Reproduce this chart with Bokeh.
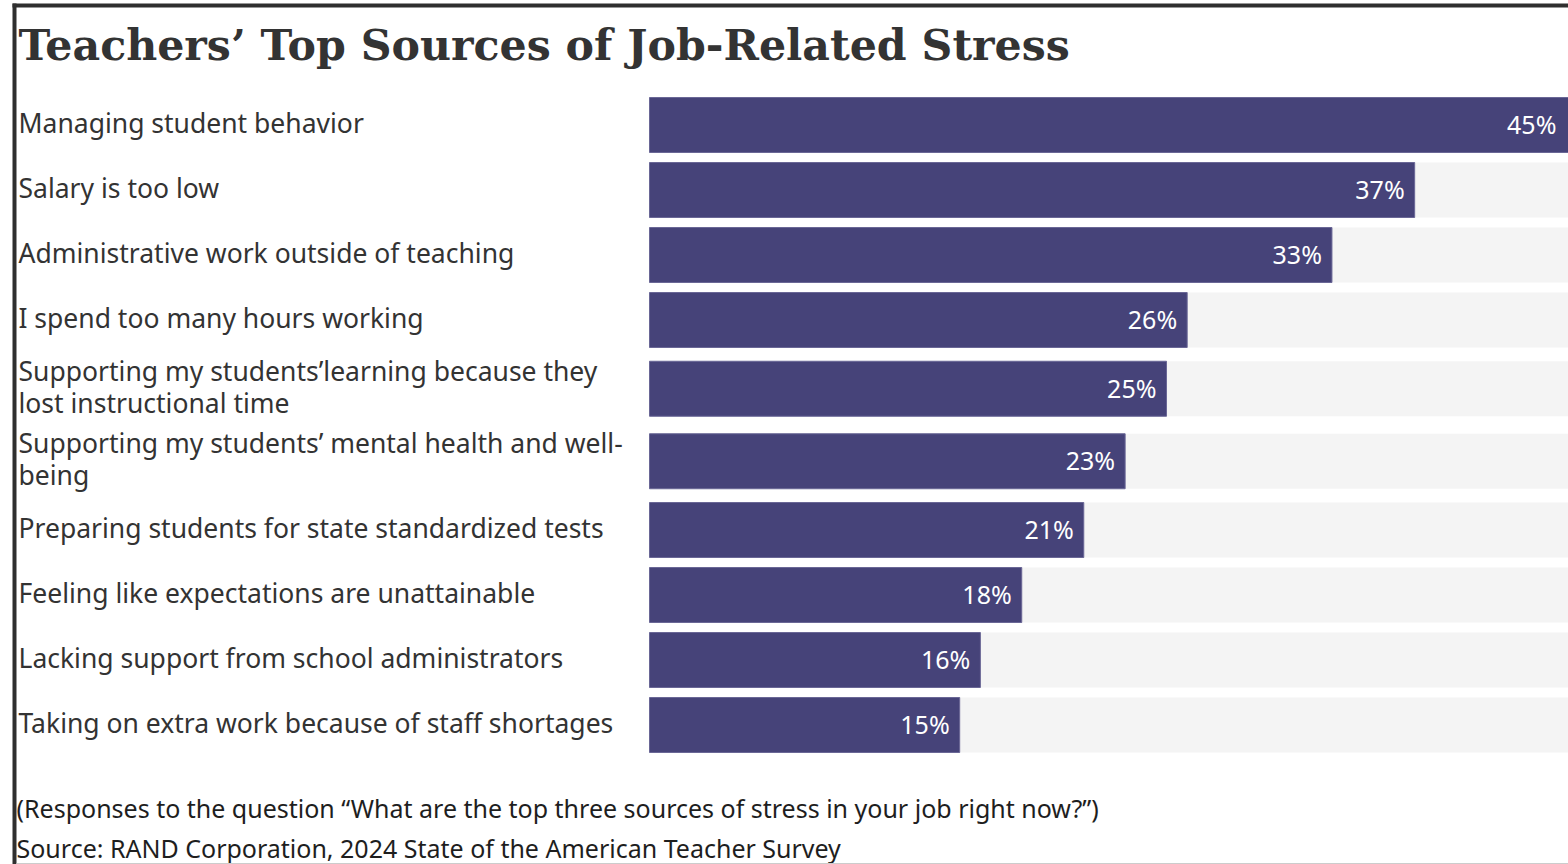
from bokeh.plotting import figure
from bokeh.models import Range1d, ColumnDataSource
from bokeh.core.properties import value
from bokeh.embed import file_html
from bokeh.resources import INLINE

# ---- data ----
categories = [
    "Managing student behavior",
    "Salary is too low",
    "Administrative work outside of teaching",
    "I spend too many hours working",
    "Supporting my students\u2019learning because they\nlost instructional time",
    "Supporting my students\u2019 mental health and well-\nbeing",
    "Preparing students for state standardized tests",
    "Feeling like expectations are unattainable",
    "Lacking support from school administrators",
    "Taking on extra work because of staff shortages",
]
values = [45, 37, 33, 26, 25, 23, 21, 18, 16, 15]
value_labels = [f"{v}%" for v in values]
title_text = "Teachers\u2019 Top Sources of Job-Related Stress"
note_text = "(Responses to the question \u201cWhat are the top three sources of stress in your job right now?\u201d)"
source_text = "Source: RAND Corporation, 2024 State of the American Teacher Survey"

# ---- layout ----
W, H = 1568, 864
BAR_LEFT_PX = 649
PX_PER_UNIT = 20.68
TRACK_MAX = 45


def px(xp):
    return (xp - BAR_LEFT_PX) / PX_PER_UNIT


x_end = px(W)

# row positions from number of label lines
row_top = 92.0
centers = []
for c in categories:
    h = 65.0 if c.count("\n") == 0 else 72.5
    centers.append(row_top + h / 2)
    row_top += h

p = figure(width=W, height=H, output_backend="svg", toolbar_location=None,
           x_range=Range1d(px(0), x_end), y_range=Range1d(H, 0),
           min_border=0, min_border_left=0, min_border_right=0,
           min_border_top=0, min_border_bottom=0)
p.axis.visible = False
p.grid.visible = False
p.outline_line_color = None
p.background_fill_color = "white"
p.border_fill_color = "white"

label_x = [min(v, x_end - 0.1) for v in values]
src = ColumnDataSource(dict(y=centers, v=values, lx=label_x, lab=value_labels, cat=categories,
                            track=[TRACK_MAX * 1.2] * len(values)))

# gray tracks
p.hbar(y="y", left=0, right="track", height=55, source=src,
       fill_color="#f4f4f4", line_color=None)
# bars
p.hbar(y="y", left=0, right="v", height=55, source=src,
       fill_color="#464379", line_color="#6a6796", line_width=1)
# value labels
p.text(x="lx", y="y", text="lab", source=src, x_offset=-10, y_offset=-1,
       text_align="right", text_baseline="middle", text_color="white",
       text_font=value("Noto Sans"), text_font_size="25px")
# category labels
p.text(x=px(18), y="y", text="cat", source=src, y_offset=-2,
       text_align="left", text_baseline="middle", text_color="#333333",
       text_font=value("Noto Sans"), text_font_size="26.5px", text_line_height=0.89)

# title
p.text(x=[px(18)], y=[44], text=[title_text], text_align="left", text_baseline="middle",
       text_color="#333333", text_font=value("DejaVu Serif"), text_font_style="bold",
       text_font_size="42.7px")
# footer
p.text(x=[px(16), px(16)], y=[807, 847], text=[note_text, source_text],
       text_align="left", text_baseline="middle", text_color="#1e1e1e",
       text_font=value("Noto Sans"), text_font_size="25px")

# frame lines
p.segment(x0=[px(12)], y0=[5], x1=[x_end], y1=[5], line_color="#2f2f2f", line_width=4)
p.segment(x0=[px(14)], y0=[3], x1=[px(14)], y1=[H], line_color="#2f2f2f", line_width=4)
p.segment(x0=[px(16)], y0=[863], x1=[x_end], y1=[863], line_color="#cccccc", line_width=1)

open("out.html", "w").write(file_html(p, INLINE))
